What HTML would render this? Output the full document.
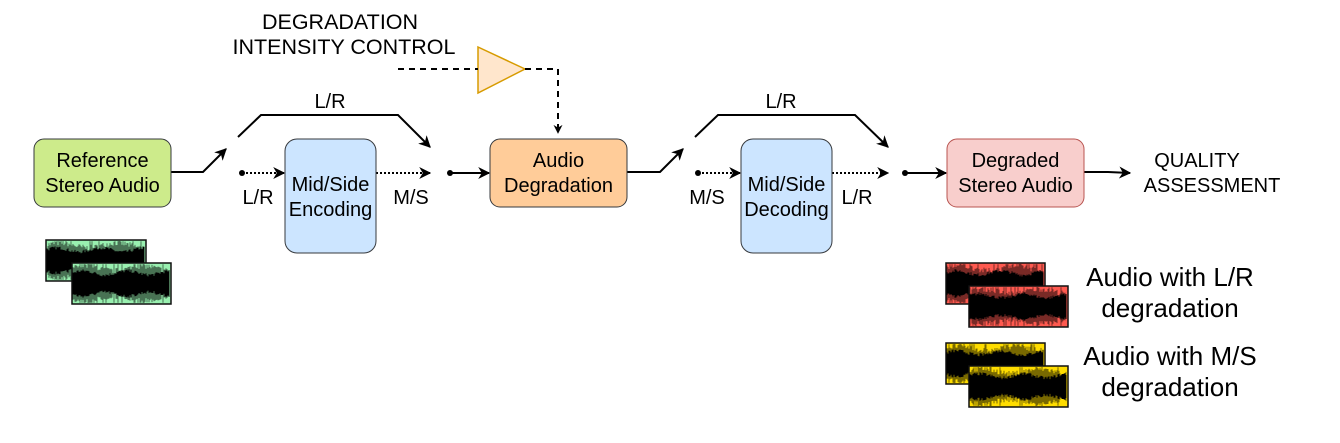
<!DOCTYPE html>
<html><head><meta charset="utf-8"><style>
html,body{margin:0;padding:0;background:#fff;}
svg{display:block;}
text{font-family:"Liberation Sans",Arial,sans-serif;fill:#000;}
</style></head><body>
<svg id="s" width="1340" height="443" viewBox="0 0 1340 443" xmlns="http://www.w3.org/2000/svg">
<defs>
<marker id="a" viewBox="0 0 10 10" refX="9" refY="5" markerWidth="9" markerHeight="9" markerUnits="userSpaceOnUse" orient="auto"><path d="M0,0 L10,5 L0,10 L3,5 Z" fill="#000"/></marker>
<marker id="a2" viewBox="0 0 10 10" refX="9" refY="5" markerWidth="12" markerHeight="12" markerUnits="userSpaceOnUse" orient="auto"><path d="M0,0 L10,5 L0,10 L3,5 Z" fill="#000"/></marker>
</defs>
<text x="340" y="29" font-size="21.5" text-anchor="middle">DEGRADATION</text>
<text x="344" y="54" font-size="21.5" text-anchor="middle">INTENSITY CONTROL</text>
<polygon points="478,47 525,69 478,93" fill="#ffe6cc" stroke="#d79b00" stroke-width="1.5"/>
<g stroke="#000" stroke-width="2" fill="none" stroke-dasharray="6,5">
<line x1="398" y1="69" x2="478" y2="69"/>
<polyline points="525,69 558,69 558,133" marker-end="url(#a)"/>
</g>
<g fill="none" stroke="#000" stroke-width="2">
<polyline points="171,172 203,172 226,149" marker-end="url(#a2)"/>
<polyline points="238,137 261,115 398,115 430,147" marker-end="url(#a2)"/>
<line x1="450" y1="173" x2="489" y2="173" marker-end="url(#a2)"/>
<polyline points="627,172 660,172 683,149" marker-end="url(#a2)"/>
<polyline points="695,137 718,115 855,115 888,147" marker-end="url(#a2)"/>
<line x1="905" y1="173" x2="946" y2="173" marker-end="url(#a2)"/>
<polyline points="1084,172 1108,172 1130,173" marker-end="url(#a2)"/>
</g>
<g fill="none" stroke="#000" stroke-width="2" stroke-dasharray="2,2">
<line x1="242" y1="173" x2="284" y2="173" marker-end="url(#a2)"/>
<line x1="376" y1="173" x2="430" y2="173" marker-end="url(#a2)"/>
<line x1="698" y1="173" x2="740" y2="173" marker-end="url(#a2)"/>
<line x1="832" y1="173" x2="888" y2="173" marker-end="url(#a2)"/>
</g>
<g fill="#000"><circle cx="242" cy="173" r="3"/><circle cx="450" cy="173" r="3"/><circle cx="698" cy="173" r="3"/><circle cx="905" cy="173" r="3"/></g>
<rect x="34" y="139" width="137" height="68" rx="10" fill="#cdeb8b" stroke="#36393d" stroke-width="1"/>
<text x="102.5" y="167" font-size="20" text-anchor="middle">Reference</text>
<text x="102.5" y="192" font-size="20" text-anchor="middle">Stereo Audio</text>
<rect x="285" y="139" width="91" height="114" rx="12" fill="#cce5ff" stroke="#36393d" stroke-width="1"/>
<text x="330.5" y="191" font-size="20" text-anchor="middle">Mid/Side</text>
<text x="330.5" y="216" font-size="20" text-anchor="middle">Encoding</text>
<rect x="490" y="139" width="137" height="68" rx="10" fill="#ffcc99" stroke="#36393d" stroke-width="1"/>
<text x="558.5" y="167" font-size="20" text-anchor="middle">Audio</text>
<text x="558.5" y="192" font-size="20" text-anchor="middle">Degradation</text>
<rect x="741" y="139" width="91" height="114" rx="12" fill="#cce5ff" stroke="#36393d" stroke-width="1"/>
<text x="786.5" y="191" font-size="20" text-anchor="middle">Mid/Side</text>
<text x="786.5" y="216" font-size="20" text-anchor="middle">Decoding</text>
<rect x="947" y="139" width="137" height="68" rx="10" fill="#f8cecc" stroke="#b85450" stroke-width="1"/>
<text x="1015.5" y="167" font-size="20" text-anchor="middle">Degraded</text>
<text x="1015.5" y="192" font-size="20" text-anchor="middle">Stereo Audio</text>
<text x="330" y="108" font-size="20" text-anchor="middle">L/R</text>
<text x="781" y="108" font-size="20" text-anchor="middle">L/R</text>
<text x="258" y="204" font-size="20" text-anchor="middle">L/R</text>
<text x="411" y="204" font-size="20" text-anchor="middle">M/S</text>
<text x="707" y="204" font-size="20" text-anchor="middle">M/S</text>
<text x="857" y="204" font-size="20" text-anchor="middle">L/R</text>
<text x="1197" y="167" font-size="20" text-anchor="middle">QUALITY</text>
<text x="1212" y="192" font-size="20" text-anchor="middle">ASSESSMENT</text>
<text x="1170" y="286" font-size="26" text-anchor="middle">Audio with L/R</text>
<text x="1170" y="317" font-size="26" text-anchor="middle">degradation</text>
<text x="1170" y="365" font-size="26" text-anchor="middle">Audio with M/S</text>
<text x="1170" y="396" font-size="26" text-anchor="middle">degradation</text>
<g id="waves"></g>
</svg>
<script>
(function(){
var g=document.getElementById('waves'),ns='http://www.w3.org/2000/svg',seed=7;
function r(){seed=(seed*16807)%2147483647;return seed/2147483647;}
function wave(x,y,w,h,fill){
 var rect=document.createElementNS(ns,'rect');
 rect.setAttribute('x',x);rect.setAttribute('y',y);rect.setAttribute('width',w);rect.setAttribute('height',h);
 rect.setAttribute('fill',fill);rect.setAttribute('stroke','#111');rect.setAttribute('stroke-width','1.5');g.appendChild(rect);
 var d='',cy=y+h/2;
 for(var i=1;i<w-1;i++){var a=h*(0.3+0.06*Math.sin(i/9))+r()*h*0.14;if(r()<0.15)a=h*0.47;a=Math.min(a,h/2-1);
  d+='M'+(x+i)+','+(cy-a).toFixed(1)+'V'+(cy+a).toFixed(1);}
 var p=document.createElementNS(ns,'path');p.setAttribute('d',d);p.setAttribute('stroke','#000');p.setAttribute('stroke-width','0.7');p.setAttribute('opacity','0.75');g.appendChild(p);
 var d2='';for(var j=1;j<w-1;j++){var b=h*(0.22+0.05*Math.sin(j/7))+r()*h*0.08;d2+='M'+(x+j)+','+(cy-b).toFixed(1)+'V'+(cy+b).toFixed(1);}
 var p2=document.createElementNS(ns,'path');p2.setAttribute('d',d2);p2.setAttribute('stroke','#000');p2.setAttribute('stroke-width','1');g.appendChild(p2);
}
wave(46,240,100,41,'#99f0b0');wave(72,263,99,41,'#99f0b0');
wave(946,263,99,41,'#ff5a50');wave(969,286,99,41,'#ff5a50');
wave(946,343,99,41,'#ffdd00');wave(969,366,99,41,'#ffdd00');
})();
</script>
</body></html>
